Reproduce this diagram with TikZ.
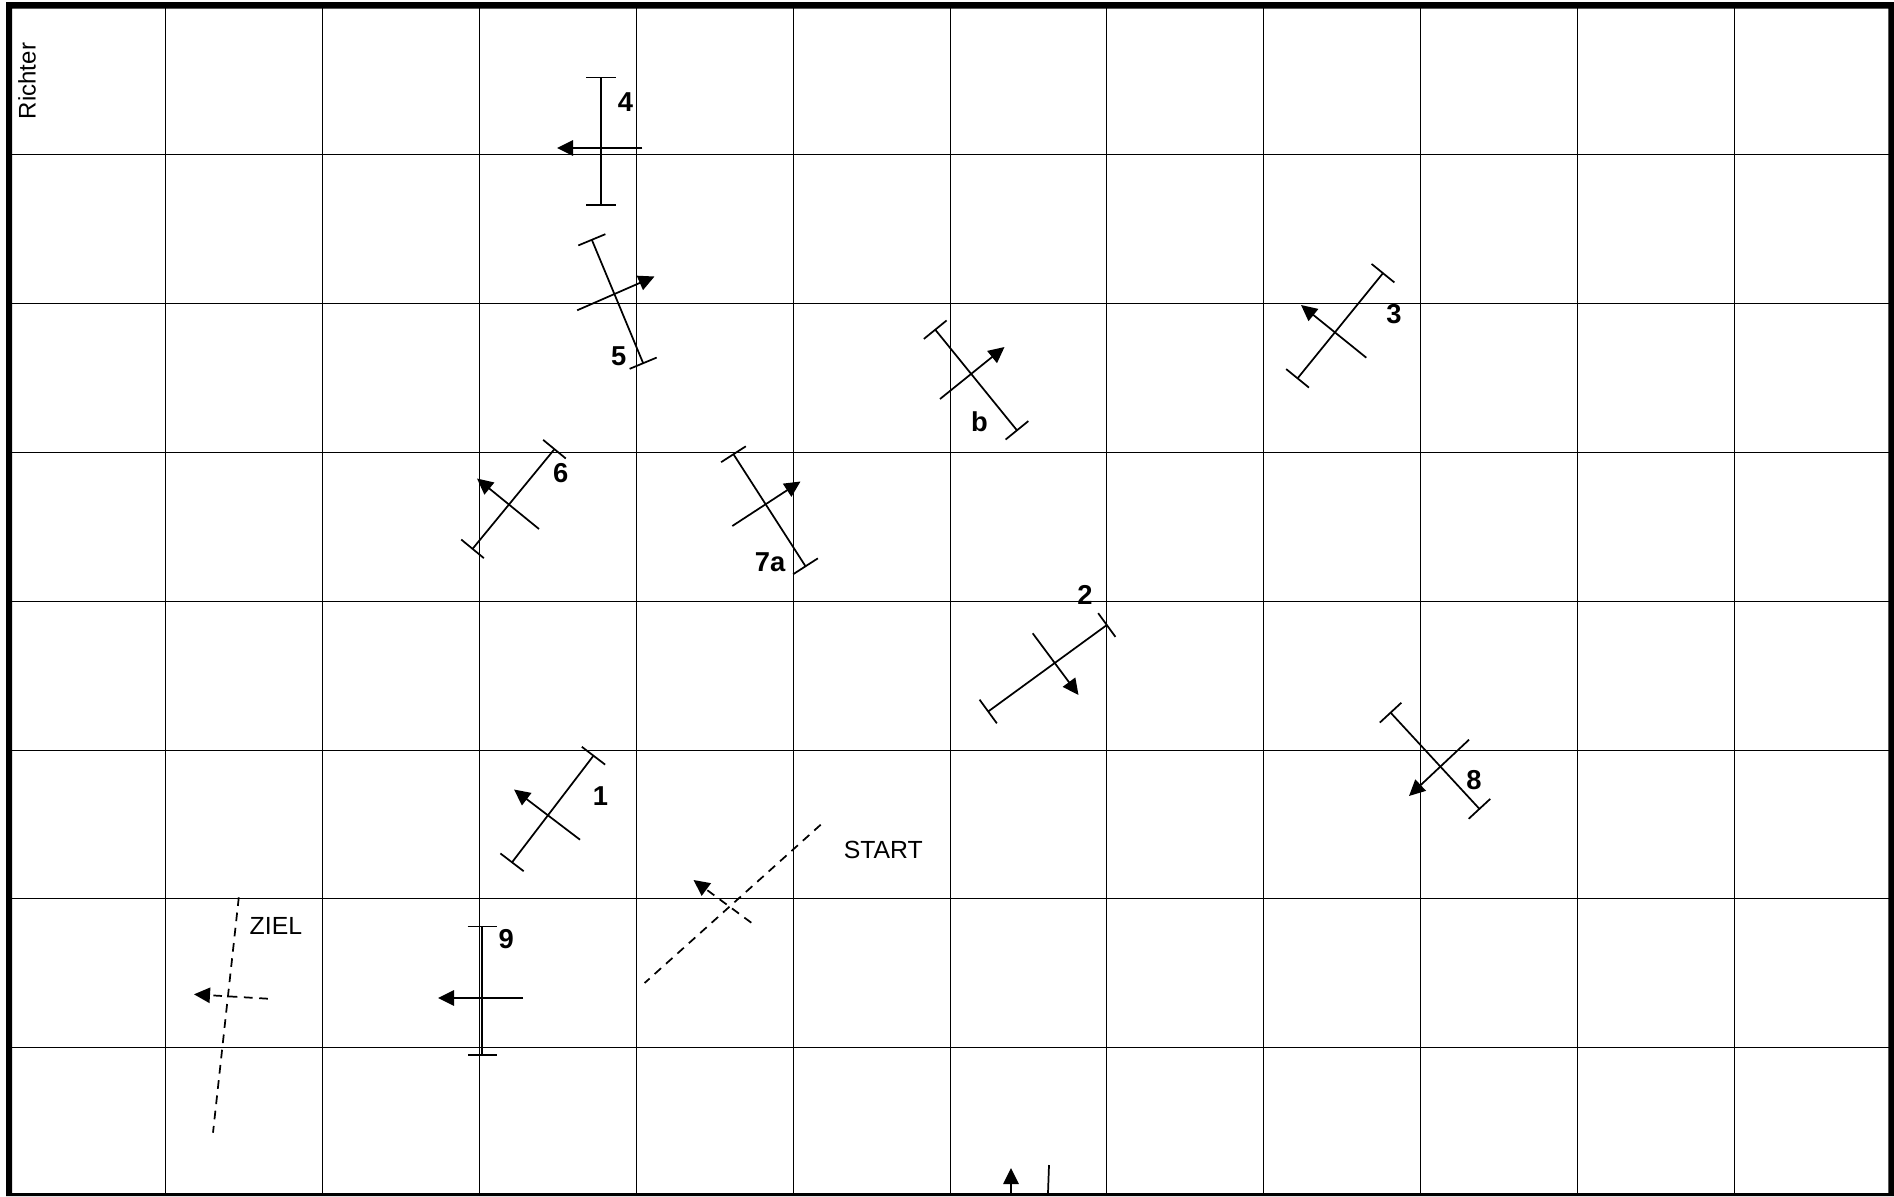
\documentclass[tikz,border=0pt]{standalone}
\usepackage{fontspec}
\setmainfont{Liberation Sans}
\usetikzlibrary{arrows.meta}

\begin{document}
\begin{tikzpicture}[
  x=0.75pt, y=-0.75pt,
  gridline/.style={line width=0.75pt, draw=black},
  gate/.style={{Bar[width=22pt, line width=1.3pt]}-{Bar[width=22pt, line width=1.3pt]}, line width=1.3pt},
  course/.style={-{Triangle[length=12pt, width=11.5pt]}, line width=1.3pt},
  startline/.style={line width=1.3pt, dash pattern=on 6.5pt off 5pt},
  gatelabel/.style={font=\fontsize{20.5}{21}\selectfont\bfseries, inner sep=0pt},
  plainlabel/.style={font=\fontsize{18.6}{20}\selectfont, inner sep=0pt},
  judgelabel/.style={font=\fontsize{18}{20}\selectfont, inner sep=0pt, rotate=90}
]

\useasboundingbox (0,0) rectangle (1894,1196);

% ==================== GRID ====================
\draw[gridline] (165.6,8) -- (165.6,1194);
\draw[gridline] (322.5,8) -- (322.5,1194);
\draw[gridline] (479.3,8) -- (479.3,1194);
\draw[gridline] (636.3,8) -- (636.3,1194);
\draw[gridline] (793.2,8) -- (793.2,1194);
\draw[gridline] (950.2,8) -- (950.2,1194);
\draw[gridline] (1106.8,8) -- (1106.8,1194);
\draw[gridline] (1263.5,8) -- (1263.5,1194);
\draw[gridline] (1420.4,8) -- (1420.4,1194);
\draw[gridline] (1577.3,8) -- (1577.3,1194);
\draw[gridline] (1734.3,8) -- (1734.3,1194);

\draw[gridline] (10,154.3) -- (1889,154.3);
\draw[gridline] (10,303.3) -- (1889,303.3);
\draw[gridline] (10,452.3) -- (1889,452.3);
\draw[gridline] (10,601.3) -- (1889,601.3);
\draw[gridline] (10,750.2) -- (1889,750.2);
\draw[gridline] (10,898.3) -- (1889,898.3);
\draw[gridline] (10,1047.3) -- (1889,1047.3);

% ==================== FRAME ====================
\fill[even odd rule, black] (6,2) rectangle (1894,1196) (12,8.7) rectangle (1888.3,1193.2);

% ==================== GATES ====================
\draw[gate] (600.9,76.5) -- (600.9,205.5);
\draw[course] (642.4,148) -- (557,148);
\node[gatelabel] (n4) at (625.5,102.5) {4};

\draw[gate] (591.5,239) -- (643.5,364);
\draw[course] (577.2,310.3) -- (654.5,276.5);
\node[gatelabel] (n5) at (618.8,356.5) {5};

\draw[gate] (934.7,329) -- (1017.5,431);
\draw[course] (940,399) -- (1004.5,347);
\node[gatelabel] (nb) at (979.5,421.7) {b};

\draw[gate] (1383.5,272.5) -- (1297,379);
\draw[course] (1366.3,357.7) -- (1301,305);
\node[gatelabel] (n3) at (1394,314.5) {3};

\draw[gate] (555,448.5) -- (472,549.5);
\draw[course] (539,529) -- (477,478.5);
\node[gatelabel] (n6) at (560.7,473.5) {6};

\draw[gate] (733,453.5) -- (806,567);
\draw[course] (732.3,526) -- (800.5,481.5);
\node[gatelabel] (n7a) at (770,562.3) {7a};

\draw[gate] (1107.5,624.5) -- (987.5,712);
\draw[course] (1032.7,633.3) -- (1078.5,695);
\node[gatelabel] (n2) at (1085,595) {2};

\draw[gate] (1390,712) -- (1480,809.5);
\draw[course] (1469,739.7) -- (1409,796);
\node[gatelabel] (n8) at (1474,780.5) {8};

\draw[gate] (594,755) -- (511.5,863);
\draw[course] (580,839.7) -- (514,789.5);
\node[gatelabel] (n1) at (600.5,796.5) {1};

\draw[gate] (482.3,925.5) -- (482.3,1055.5);
\draw[course] (523.2,998) -- (438,998);
\node[gatelabel] (n9) at (506.3,939.5) {9};

% ==================== START AND ZIEL ====================
\draw[startline] (820.7,824.7) -- (644.6,983);
\draw[course, dash pattern=on 6.5pt off 5pt] (751.3,922.7) -- (693.5,880);
\node[plainlabel] (start) at (883.3,850.3) {START};

\draw[startline] (238.8,897.3) -- (213,1132.7);
\draw[course, dash pattern=on 6.5pt off 5pt] (267.9,998.7) -- (194,994.3);
\node[plainlabel] (ziel) at (275.9,926.3) {ZIEL};

\node[judgelabel] (richter) at (27,81) {Richter};

% ==================== BOTTOM EDGE ====================
\draw[course] (1011,1193) -- (1011,1168);
\draw[line width=1.3pt] (1049,1165) -- (1048,1193);

\end{tikzpicture}
\end{document}
